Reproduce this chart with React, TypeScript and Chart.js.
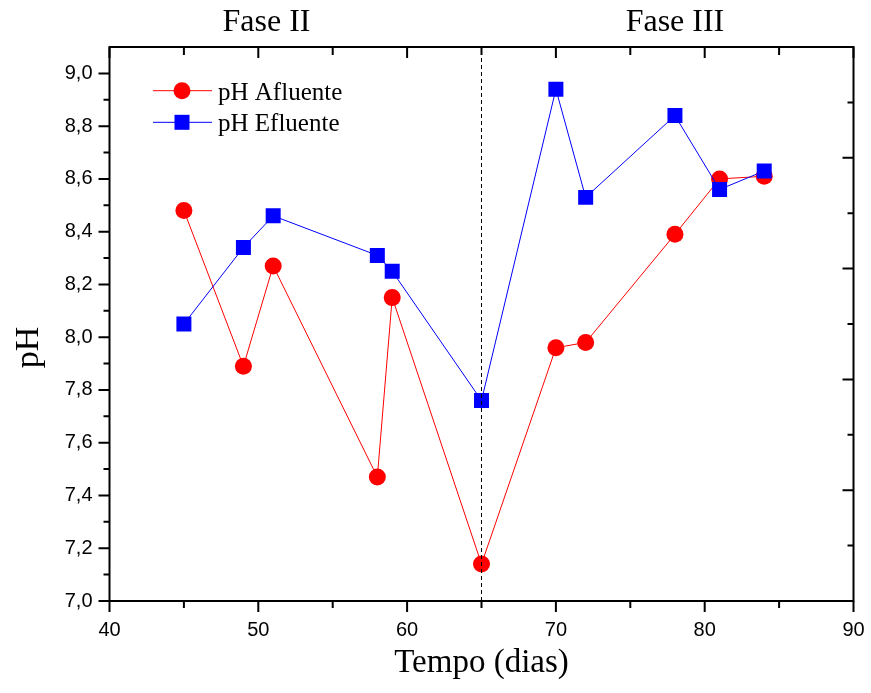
import React, { useEffect, useRef } from "react";
import { Chart, registerables } from "chart.js";

Chart.register(...registerables);

const days = [45, 49, 51, 58, 59, 65, 70, 72, 78, 81, 84];
const phAfluente = [8.48, 7.89, 8.27, 7.47, 8.15, 7.14, 7.96, 7.98, 8.39, 8.6, 8.61];
const phEfluente = [8.05, 8.34, 8.46, 8.31, 8.25, 7.76, 8.94, 8.53, 8.84, 8.56, 8.63];
const xTicks = [40, 50, 60, 70, 80, 90];
const yTicks = [7.0, 7.2, 7.4, 7.6, 7.8, 8.0, 8.2, 8.4, 8.6, 8.8, 9.0];
const phaseChangeDay = 65;
const phaseNames = ["Fase II", "Fase III"];
const seriesNames = ["pH Afluente", "pH Efluente"];

const SERIF = "'Liberation Serif', 'Times New Roman', serif";
const SANS = "'Liberation Sans', Arial, sans-serif";

const decorPlugin = {
  id: "decor",
  afterDraw(chart: any) {
    const { ctx, chartArea } = chart;
    const { left, right, top, bottom } = chartArea;
    const xs = chart.scales.x;
    const ys = chart.scales.y;
    ctx.save();
    ctx.strokeStyle = "#000";
    ctx.lineWidth = 2;
    ctx.strokeRect(left, top, right - left, bottom - top);

    // left & bottom ticks outward, top inward
    ctx.lineWidth = 2;
    ctx.beginPath();
    for (let i = 0; i < yTicks.length; i++) {
      const py = ys.getPixelForValue(yTicks[i]);
      ctx.moveTo(left - 11, py);
      ctx.lineTo(left, py);
      if (i < yTicks.length - 1) {
        const pm = ys.getPixelForValue((yTicks[i] + yTicks[i + 1]) / 2);
        ctx.moveTo(left - 6, pm);
        ctx.lineTo(left, pm);
      }
    }
    for (let i = 0; i < xTicks.length; i++) {
      const px = xs.getPixelForValue(xTicks[i]);
      ctx.moveTo(px, bottom);
      ctx.lineTo(px, bottom + 11);
      ctx.moveTo(px, top);
      ctx.lineTo(px, top + 11);
      if (i < xTicks.length - 1) {
        const pm = xs.getPixelForValue((xTicks[i] + xTicks[i + 1]) / 2);
        ctx.moveTo(pm, bottom);
        ctx.lineTo(pm, bottom + 7);
        ctx.moveTo(pm, top);
        ctx.lineTo(pm, top + 8);
      }
    }
    // right axis (independent divisions)
    const n = 10;
    for (let k = 0; k <= n; k++) {
      const v = ys.min + (k * (ys.max - ys.min)) / n;
      const py = ys.getPixelForValue(v);
      const len = k % 2 === 0 ? 11 : 6;
      ctx.moveTo(right - len, py);
      ctx.lineTo(right, py);
    }
    ctx.stroke();

    // phase labels
    ctx.fillStyle = "#000";
    ctx.font = `32px ${SERIF}`;
    ctx.textAlign = "center";
    ctx.textBaseline = "alphabetic";
    ctx.fillText(phaseNames[0], xs.getPixelForValue(50.55), 31);
    ctx.fillText(phaseNames[1], xs.getPixelForValue(78.0), 31);

    // axis titles
    ctx.font = `33px ${SERIF}`;
    ctx.fillText("Tempo (dias)", (left + right) / 2, 672);
    ctx.save();
    ctx.translate(38, 347.5);
    ctx.rotate(-Math.PI / 2);
    ctx.font = `34px ${SERIF}`;
    ctx.fillText("pH", 0, 0);
    ctx.restore();

    // legend
    const ds = chart.data.datasets;
    const rows = [
      { d: ds[1], y: top + 43.7, base: top + 53 },
      { d: ds[2], y: top + 75.3, base: top + 84 },
    ];
    ctx.font = `25px ${SERIF}`;
    ctx.textAlign = "left";
    rows.forEach((r) => {
      const lx0 = left + 43.5;
      const lx1 = left + 102.5;
      const cx = left + 72.5;
      ctx.strokeStyle = r.d.borderColor;
      ctx.lineWidth = 1;
      ctx.beginPath();
      ctx.moveTo(lx0, r.y);
      ctx.lineTo(lx1, r.y);
      ctx.stroke();
      ctx.fillStyle = r.d.backgroundColor;
      if (r.d.pointStyle === "rect") {
        const s = r.d.pointRadius * Math.SQRT1_2;
        ctx.fillRect(cx - s, r.y - s, 2 * s, 2 * s);
      } else {
        ctx.beginPath();
        ctx.arc(cx, r.y, r.d.pointRadius, 0, Math.PI * 2);
        ctx.fill();
      }
      ctx.fillStyle = "#000";
      ctx.fillText(r.d.label, left + 108.5, r.base);
    });
    ctx.restore();
  },
};

export default function App() {
  const ref = useRef<HTMLCanvasElement>(null);
  useEffect(() => {
    if (!ref.current) return;
    const yMin = 7.0;
    const yMax = 9.1;
    const chart = new Chart(ref.current, {
      type: "line",
      data: {
        datasets: [
          {
            label: "phase",
            data: [
              { x: phaseChangeDay, y: yMin },
              { x: phaseChangeDay, y: yMax },
            ],
            borderColor: "#000",
            borderWidth: 1,
            borderDash: [4, 3],
            pointRadius: 0,
            order: 0,
          },
          {
            label: seriesNames[0],
            data: days.map((d, i) => ({ x: d, y: phAfluente[i] })),
            borderColor: "#FF0000",
            backgroundColor: "#FF0000",
            borderWidth: 1,
            pointStyle: "circle",
            pointRadius: 8.5,
            pointBorderWidth: 0,
            order: 2,
          },
          {
            label: seriesNames[1],
            data: days.map((d, i) => ({ x: d, y: phEfluente[i] })),
            borderColor: "#0000FF",
            backgroundColor: "#0000FF",
            borderWidth: 1,
            pointStyle: "rect",
            pointRadius: 10.6,
            pointBorderWidth: 0,
            order: 1,
          },
        ],
      },
      options: {
        responsive: false,
        animation: false,
        devicePixelRatio: 1,
        layout: { padding: { top: 47, right: 17.5, left: 0, bottom: 0 } },
        plugins: {
          legend: { display: false },
          tooltip: { enabled: false },
        },
        scales: {
          x: {
            type: "linear",
            min: 40,
            max: 90,
            grid: { display: false, drawTicks: true, tickLength: 11 },
            border: { display: false },
            afterBuildTicks: (s: any) => {
              s.ticks = xTicks.map((v) => ({ value: v }));
            },
            afterFit: (s: any) => {
              s.height = 92;
            },
            ticks: {
              padding: 6,
              color: "#000",
              font: { family: SANS, size: 20 },
              callback: (v: any) => String(v),
            },
          },
          y: {
            type: "linear",
            min: yMin,
            max: yMax,
            grid: { display: false, drawTicks: true, tickLength: 11 },
            border: { display: false },
            afterBuildTicks: (s: any) => {
              s.ticks = yTicks.map((v) => ({ value: v }));
            },
            afterFit: (s: any) => {
              s.width = 109.5;
            },
            ticks: {
              padding: 6,
              color: "#000",
              font: { family: SANS, size: 20 },
              callback: (v: any) => Number(v).toFixed(1).replace(".", ","),
            },
          },
        },
      },
      plugins: [decorPlugin],
    } as any);
    return () => chart.destroy();
  }, []);
  return (
    <div style={{ position: "fixed", left: 0, top: 0, width: 871, height: 693, background: "#fff" }}>
      <canvas ref={ref} width={871} height={693} />
    </div>
  );
}
